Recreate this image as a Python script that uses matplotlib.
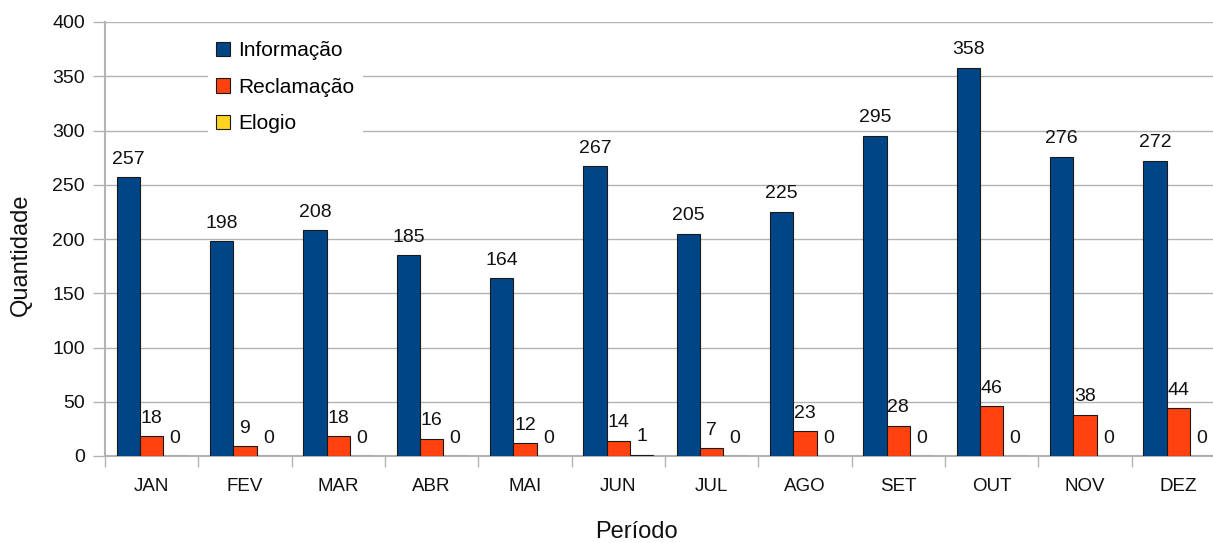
import matplotlib
matplotlib.use("Agg")
import matplotlib.pyplot as plt
from matplotlib.patches import Patch
import numpy as np

plt.rcParams['font.family'] = ['Liberation Sans', 'DejaVu Sans']

# Monthly counts per type of request
meses = ['JAN', 'FEV', 'MAR', 'ABR', 'MAI', 'JUN', 'JUL', 'AGO', 'SET', 'OUT', 'NOV', 'DEZ']
informacao = [257, 198, 208, 185, 164, 267, 205, 225, 295, 358, 276, 272]
reclamacao = [18, 9, 18, 16, 12, 14, 7, 23, 28, 46, 38, 44]
elogio = [0, 0, 0, 0, 0, 1, 0, 0, 0, 0, 0, 0]
series_nomes = ['Informação', 'Reclamação', 'Elogio']
y_ticks = [0, 50, 100, 150, 200, 250, 300, 350, 400]

cores = ['#004586', '#ff420e', '#ffd320']
cinza = '#b3b3b3'
texto = '#111111'

W, H = 1213, 543
fig = plt.figure(figsize=(W / 100, H / 100), dpi=100)
# plot area runs a little past the right edge of the canvas
ax = fig.add_axes([105 / W, (H - 456) / H, 1120 / W, 434 / H])

x = np.arange(len(meses))
largura = 0.25
for k, (valores, nome, cor) in enumerate(zip([informacao, reclamacao, elogio], series_nomes, cores)):
    pos = x + (k - 1) * largura
    ax.bar(pos, valores, largura, color=cor, edgecolor='#1a1a1a', linewidth=0.8,
           label=nome, zorder=3)
    for p, v in zip(pos, valores):
        ax.annotate(str(v), (p, v), xytext=(0, 9.7), textcoords='offset points',
                    ha='center', va='baseline', fontsize=14, color=texto)

ax.set_xlim(-0.5, len(meses) - 0.5)
ax.set_ylim(0, 400)
ax.set_yticks(y_ticks)
ax.set_xticks(np.arange(-0.5, len(meses), 1))
ax.set_xticklabels([])
ax.set_xticks(x, minor=True)
ax.set_xticklabels(meses, minor=True)
ax.tick_params(axis='x', which='major', length=8, width=1, color=cinza)
ax.tick_params(axis='x', which='minor', length=0, pad=16, labelsize=13.5, labelcolor=texto)
ax.tick_params(axis='y', length=8.6, width=1, color=cinza, pad=5.8, labelsize=14,
               labelcolor=texto)

ax.yaxis.grid(True, color=cinza, linewidth=1)
ax.set_axisbelow(True)
for lado in ['top', 'right']:
    ax.spines[lado].set_visible(False)
ax.spines['left'].set_color(cinza)
ax.spines['bottom'].set_color(cinza)
ax.spines['left'].set_linewidth(1.5)
ax.spines['bottom'].set_linewidth(1.5)

handles = [Patch(facecolor=c, edgecolor='#1a1a1a', linewidth=0.8) for c in cores]
leg = ax.legend(handles, series_nomes, loc='upper left',
                bbox_to_anchor=(208 / W, 1 - 33 / H), bbox_transform=fig.transFigure,
                frameon=True, fancybox=False, facecolor='white', edgecolor='none',
                framealpha=1, fontsize=15, handlelength=0.67, handleheight=0.67,
                handletextpad=0.4, labelspacing=0.84, borderpad=0.4, borderaxespad=0)
leg.set_zorder(5)

fig.text(636 / W, 1 - 532 / H, 'Período', ha='center', va='center', fontsize=17,
         color=texto)
fig.text(21 / W, 1 - 255 / H, 'Quantidade', ha='center', va='center', rotation=90,
         fontsize=17, color=texto)

fig.savefig('out.png', dpi=100)
